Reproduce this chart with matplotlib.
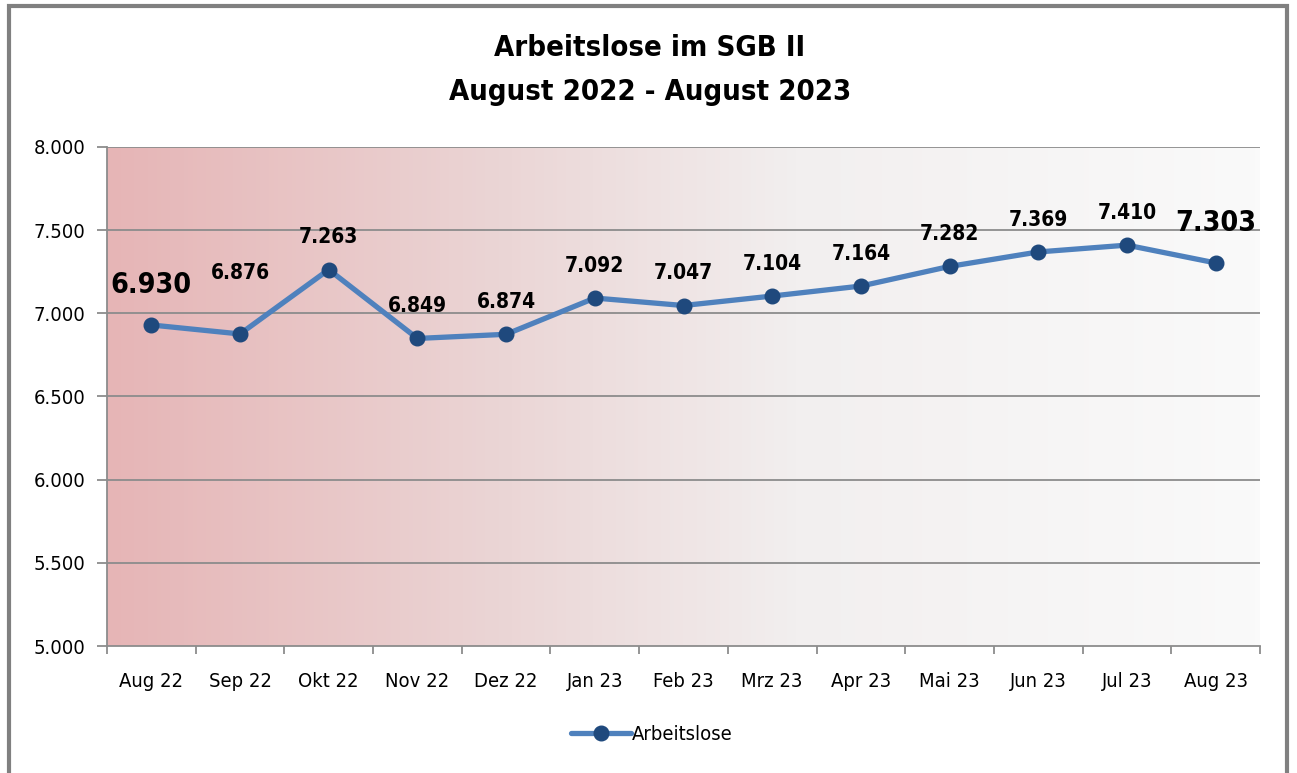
import matplotlib
matplotlib.use("Agg")
import matplotlib.pyplot as plt
import numpy as np
from matplotlib.colors import LinearSegmentedColormap
from matplotlib.patches import Rectangle

plt.rcParams['font.family'] = ['DejaVu Sans']
plt.rcParams['font.stretch'] = 'condensed'

categories = ["Aug 22", "Sep 22", "Okt 22", "Nov 22", "Dez 22", "Jan 23", "Feb 23",
              "Mrz 23", "Apr 23", "Mai 23", "Jun 23", "Jul 23", "Aug 23"]
values = [6930, 6876, 7263, 6849, 6874, 7092, 7047, 7104, 7164, 7282, 7369, 7410, 7303]
labels = ["6.930", "6.876", "7.263", "6.849", "6.874", "7.092", "7.047", "7.104",
          "7.164", "7.282", "7.369", "7.410", "7.303"]
yticks = [5000, 5500, 6000, 6500, 7000, 7500, 8000]
ytick_labels = ["5.000", "5.500", "6.000", "6.500", "7.000", "7.500", "8.000"]

W, H = 1297, 773
fig = plt.figure(figsize=(W / 100, H / 100), dpi=100)
ax = fig.add_axes([107 / W, 1 - 646 / H, (1260 - 107) / W, (646 - 147) / H])

n = len(categories)
x = np.arange(n)
ax.set_xlim(-0.5, n - 0.5)
ax.set_ylim(5000, 8000)

# gradient background
cmap = LinearSegmentedColormap.from_list(
    "bg", [(0.0, "#E6B5B6"), (0.35, "#EBD6D6"), (0.6, "#F2EFEF"), (1.0, "#FAFAFA")])
grad = np.linspace(0, 1, 256).reshape(1, -1)
ax.imshow(grad, aspect="auto", cmap=cmap, extent=(-0.5, n - 0.5, 5000, 8000), zorder=0)

for yv in yticks[1:]:
    ax.axhline(yv, color="#8C8C8C", lw=1.3, zorder=1)

ax.plot(x, values, color="#4F81BD", lw=3.8, marker="o", markersize=10.5,
        markerfacecolor="#1F497D", markeredgecolor="#1F497D", zorder=3, label="Arbeitslose",
        solid_capstyle="round")

extra_offset = {1: 21}  # Sep 22 label sits higher in the reference
for i, (xv, yv, lab) in enumerate(zip(x, values, labels)):
    big = i in (0, n - 1)
    off = (19 if big else 16) + extra_offset.get(i, 0)
    ax.annotate(lab, (xv, yv), xytext=(0, off), textcoords="offset points",
                ha="center", va="bottom", fontsize=20.5 if big else 15,
                fontweight="bold", color="black", zorder=4)

ax.set_yticks(yticks)
ax.set_yticklabels(ytick_labels, fontsize=14.5)
ax.set_xticks(x)
ax.set_xticklabels(categories, fontsize=14.5)
ax.set_xticks(np.arange(-0.5, n, 1), minor=True)
ax.tick_params(axis="x", which="major", length=0, pad=18.5)
ax.tick_params(axis="x", which="minor", length=6, color="#8C8C8C", width=1.3)
ax.tick_params(axis="y", length=7, color="#8C8C8C", width=1.3, pad=8.5)
for s in ["top", "right"]:
    ax.spines[s].set_visible(False)
for s in ["left", "bottom"]:
    ax.spines[s].set_color("#8C8C8C")
    ax.spines[s].set_linewidth(1.3)

fig.text(650 / W, 1 - 48 / H, "Arbeitslose im SGB II", ha="center", va="center",
         fontsize=21, fontweight="bold")
fig.text(650 / W, 1 - 92 / H, "August 2022 - August 2023", ha="center", va="center",
         fontsize=21, fontweight="bold")

leg = fig.legend(loc="center", bbox_to_anchor=(652 / W, 1 - 735 / H), frameon=False,
                 fontsize=14.5, handlelength=3.0, handletextpad=0.05)

# outer frame
fig.patches.append(Rectangle((9 / W, -0.05), (1287 - 9) / W, 1.05 - 6 / H,
                             transform=fig.transFigure, fill=False,
                             edgecolor="#808080", lw=3, zorder=10))

fig.savefig("out.png", dpi=100)
